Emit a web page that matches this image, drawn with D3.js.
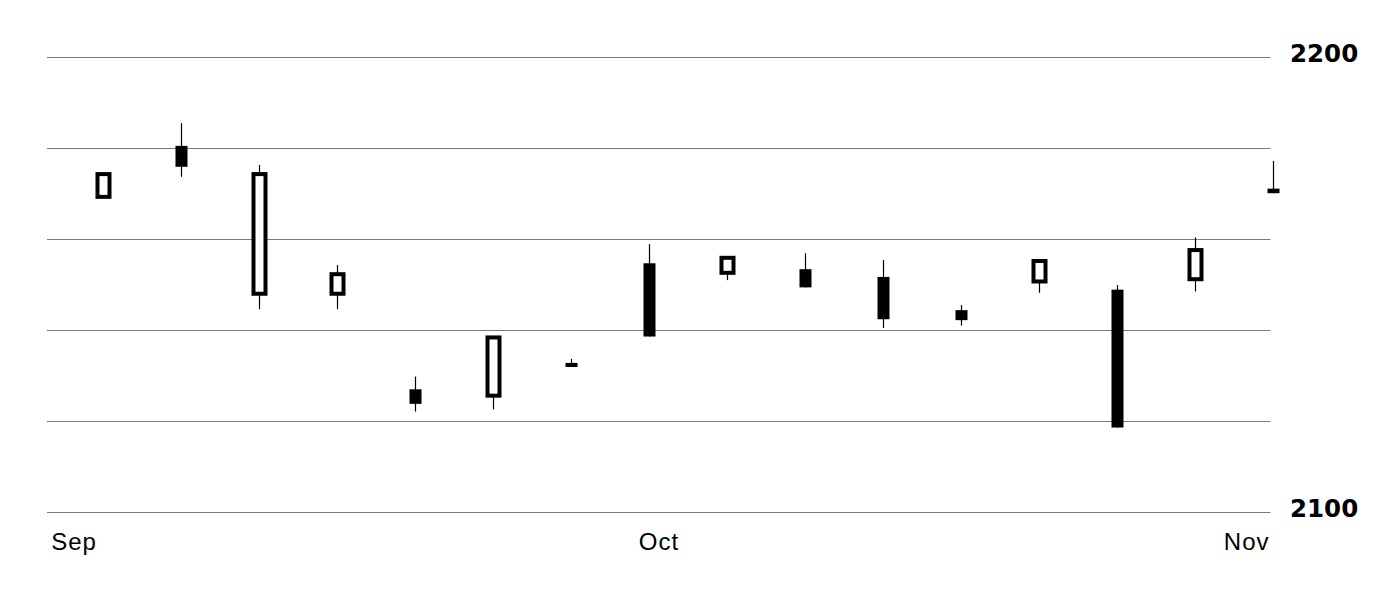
<!DOCTYPE html>
<html>
<head>
<meta charset="utf-8">
<script src="https://cdn.jsdelivr.net/npm/d3@7"></script>
<style>
  html, body { margin: 0; padding: 0; background: #fff; }
  svg { display: block; }
</style>
</head>
<body>
<svg id="chart" width="1376" height="592"></svg>
<script>
// ---- data ----
const dates = ["2023-09-02","2023-09-06","2023-09-10","2023-09-14","2023-09-18","2023-09-22","2023-09-26","2023-09-30",
               "2023-10-04","2023-10-08","2023-10-12","2023-10-16","2023-10-20","2023-10-24","2023-10-28","2023-11-01"];
const open  = [2169.2, 2180.4, 2147.9, 2147.9, 2126.9, 2125.5, 2132.7, 2154.6, 2152.5, 2153.3, 2151.6, 2144.3, 2150.6, 2148.8, 2151.1, 2171.0];
const close = [2174.2, 2175.8, 2174.2, 2152.2, 2123.7, 2138.3, 2131.8, 2138.5, 2155.8, 2149.3, 2142.3, 2142.1, 2155.1, 2118.5, 2157.5, 2170.0];
const high  = [2174.6, 2185.4, 2176.2, 2154.2, 2129.7, 2138.6, 2133.6, 2158.8, 2156.0, 2156.8, 2155.3, 2145.4, 2155.4, 2149.8, 2160.3, 2177.1];
const low   = [2169.0, 2173.6, 2144.5, 2144.5, 2122.0, 2122.5, 2131.8, 2138.5, 2150.9, 2149.3, 2140.4, 2140.9, 2148.1, 2118.5, 2148.4, 2170.0];
const gridValues = [2100, 2120, 2140, 2160, 2180, 2200];
const labelValues = [2100, 2200];
const xTickDates = ["2023-09-01","2023-10-01","2023-11-01"];
const xTickLabels = ["Sep","Oct","Nov"];

// ---- layout ----
const plotLeft = 47, plotRight = 1270.5;
const parse = d3.timeParse("%Y-%m-%d");
const data = dates.map((d, i) => ({date: parse(d), o: open[i], c: close[i], h: high[i], l: low[i]}));

const x = d3.scaleTime()
  .domain([parse("2023-09-01"), parse("2023-11-01")])
  .range([74, 1263.5]);
const y = d3.scaleLinear().domain([2100, 2200]).range([511.7, 56.7]);
const cx = d => Math.round(x(d3.timeHour.offset(d, 12))) + 0.5;

const svg = d3.select("#chart");

// grid
svg.append("g").selectAll("line").data(gridValues).join("line")
  .attr("x1", plotLeft).attr("x2", plotRight)
  .attr("y1", d => Math.round(y(d)) + 0.5).attr("y2", d => Math.round(y(d)) + 0.5)
  .attr("stroke", "#7a7a7a").attr("stroke-width", 1);

// y labels
svg.append("g").selectAll("text").data(labelValues).join("text")
  .attr("x", 1290).attr("y", d => y(d) + 5.5)
  .attr("font-family", "'DejaVu Sans', sans-serif")
  .attr("font-weight", 700).attr("font-size", 24.5)
  .attr("fill", "#000")
  .text(d => d);

// x labels
const xg = svg.append("g");
xTickDates.forEach((d, i) => {
  const px = x(parse(d));
  const t = xg.append("text")
    .attr("y", 550)
    .attr("font-family", "'Liberation Sans', Arial, sans-serif")
    .attr("font-size", 24)
    .attr("letter-spacing", 1)
    .attr("fill", "#000")
    .text(xTickLabels[i]);
  const w = t.node().getComputedTextLength();
  if (px + w / 2 > plotRight) {
    t.attr("x", plotRight - 1).attr("text-anchor", "end");
  } else if (px - w / 2 < plotLeft) {
    t.attr("x", plotLeft).attr("text-anchor", "start");
  } else {
    t.attr("x", px).attr("text-anchor", "middle");
  }
});

// candles
const g = svg.append("g");
const bodyW = 12;
g.selectAll("line.wick").data(data).join("line")
  .attr("class", "wick")
  .attr("x1", d => cx(d.date)).attr("x2", d => cx(d.date))
  .attr("y1", d => y(d.h)).attr("y2", d => y(d.l))
  .attr("stroke", "#000").attr("stroke-width", 1.2);

g.selectAll("rect.body").data(data).join("rect")
  .attr("class", "body")
  .attr("x", d => cx(d.date) - bodyW / 2)
  .attr("width", bodyW)
  .attr("y", d => y(Math.max(d.o, d.c)))
  .attr("height", d => Math.max(1, Math.abs(y(d.o) - y(d.c))))
  .attr("fill", d => d.c > d.o ? "#fff" : "#000")
  .attr("stroke", d => d.c > d.o ? "#000" : "none")
  .attr("stroke-width", 4);
</script>
</body>
</html>
